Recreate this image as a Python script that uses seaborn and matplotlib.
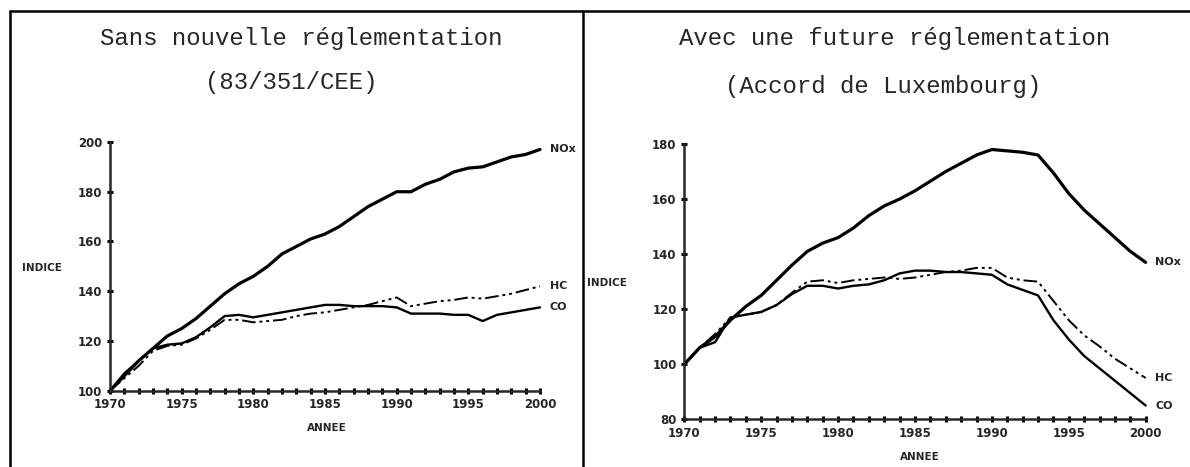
import numpy as np
import pandas as pd
import seaborn as sns
import matplotlib.pyplot as plt
from matplotlib.lines import Line2D
from matplotlib.ticker import MultipleLocator

# Années
annees = list(range(1970, 2001))

# Sans nouvelle réglementation (83/351/CEE)
nox_sans = [100, 106, 112, 117, 122, 125, 129, 134, 139, 143, 146, 150, 155, 158, 161, 163,
            166, 170, 174, 177, 180, 180, 183, 185, 188, 189.5, 190, 192, 194, 195, 197]
hc_sans = [100, 105, 110, 116, 118, 118.5, 121, 124.5, 128.5, 128.5, 127.5, 128, 128.5, 130, 131, 131.5,
           132.5, 133.5, 134.5, 136, 137.5, 134, 135, 136, 136.5, 137.5, 137, 138, 139, 140.5, 142]
co_sans = [100, 107, 112, 117, 118.5, 119, 121.5, 125.5, 130, 130.5, 129.5, 130.5, 131.5, 132.5, 133.5, 134.5,
           134.5, 134, 134, 134, 133.5, 131, 131, 131, 130.5, 130.5, 128, 130.5, 131.5, 132.5, 133.5]

# Avec une future réglementation (Accord de Luxembourg)
nox_avec = [100, 106, 110, 116, 121, 125, 130.5, 136, 141, 144, 146, 149.5, 154, 157.5, 160, 163,
            166.5, 170, 173, 176, 178, 177.5, 177, 176, 169.5, 162, 156, 151, 146, 141, 137]
hc_avec = [100, 106, 111, 117, 118, 119, 121.5, 126, 130, 130.5, 129.5, 130.5, 131, 131.5, 131, 131.5,
           132.5, 133.5, 134, 135, 135, 131.5, 130.5, 130, 123, 116, 110.5, 106.5, 102, 98.5, 95]
co_avec = [100, 106, 108, 117, 118, 119, 121.5, 125.5, 128.5, 128.5, 127.5, 128.5, 129, 130.5, 133, 134,
           134, 133.5, 133.5, 133, 132.5, 129, 127, 125, 116, 109, 103, 98.5, 94, 89.5, 85]

sns.set_style("ticks")
plt.rcParams['font.family'] = ['DejaVu Sans']

fig = plt.figure(figsize=(11.9, 4.67), dpi=100)
W, H = 1190, 467

# Cadre du document
fig.add_artist(Line2D([10 / W, 10 / W], [0, 1 - 11 / H], color='black', lw=1.8))
fig.add_artist(Line2D([10 / W, 1], [1 - 11 / H, 1 - 11 / H], color='black', lw=1.8))
fig.add_artist(Line2D([583 / W, 583 / W], [0, 1 - 11 / H], color='black', lw=1.8))

mono = ['Liberation Mono', 'DejaVu Sans Mono']
fig.text(301 / W, 1 - 38 / H, "Sans nouvelle réglementation", ha='center', va='center',
         fontsize=17.3, family=mono)
fig.text(291 / W, 1 - 83 / H, "(83/351/CEE)", ha='center', va='center', fontsize=17.3, family=mono)
fig.text(895 / W, 1 - 38 / H, "Avec une future réglementation", ha='center', va='center',
         fontsize=17.3, family=mono)
fig.text(883 / W, 1 - 87 / H, "(Accord de Luxembourg)", ha='center', va='center',
         fontsize=17.3, family=mono)

ax1 = fig.add_axes([110 / W, 1 - 390.7 / H, 430 / W, 248.7 / H])
ax2 = fig.add_axes([684.3 / W, 1 - 419.3 / H, 461.4 / W, 275.3 / H])


def trace(ax, nox, hc, co, ymin, ymax, lab_y, lab_x):
    df = pd.DataFrame({'Annee': annees, 'NOx': nox, 'HC': hc, 'CO': co})
    sns.lineplot(data=df, x='Annee', y='NOx', ax=ax, color='black', linewidth=2.3, clip_on=False)
    sns.lineplot(data=df, x='Annee', y='CO', ax=ax, color='black', linewidth=1.7, clip_on=False)
    sns.lineplot(data=df, x='Annee', y='HC', ax=ax, color='black', linewidth=1.4,
                 linestyle=(0, (7, 2, 1.5, 2, 1.5, 2)), clip_on=False)

    # Noms des polluants en bout de courbe
    for nom, serie in [('NOx', nox), ('HC', hc), ('CO', co)]:
        ax.annotate(nom, xy=(annees[-1], serie[-1]), xytext=(7, 0), textcoords='offset points',
                    ha='left', va='center', fontsize=8, fontweight='bold')

    ax.set_xlim(1970, 2000)
    ax.set_ylim(ymin, ymax)
    ax.xaxis.set_major_locator(MultipleLocator(5))
    ax.xaxis.set_minor_locator(MultipleLocator(1))
    ax.yaxis.set_major_locator(MultipleLocator(20))
    ax.tick_params(axis='both', which='both', direction='inout', width=2.2, color='black')
    ax.tick_params(axis='both', which='major', length=5, labelsize=8.5, pad=3)
    ax.tick_params(axis='x', which='minor', length=4)
    for lab in ax.get_xticklabels() + ax.get_yticklabels():
        lab.set_fontweight('bold')
    sns.despine(ax=ax)
    ax.spines['left'].set_linewidth(1.8)
    ax.spines['bottom'].set_linewidth(1.8)

    ax.set_ylabel("INDICE", rotation=0, fontsize=7.5, fontweight='bold', ha='center', va='center')
    ax.yaxis.set_label_coords(lab_y[0], lab_y[1])
    ax.set_xlabel("ANNEE", fontsize=7.5, fontweight='bold', ha='center', va='center')
    ax.xaxis.set_label_coords(lab_x[0], lab_x[1])


trace(ax1, nox_sans, hc_sans, co_sans, 100, 200, (-0.158, 0.493), (0.505, -0.15))
trace(ax2, nox_avec, hc_avec, co_avec, 80, 180, (-0.168, 0.496), (0.511, -0.137))

plt.savefig("out.png", dpi=100)
